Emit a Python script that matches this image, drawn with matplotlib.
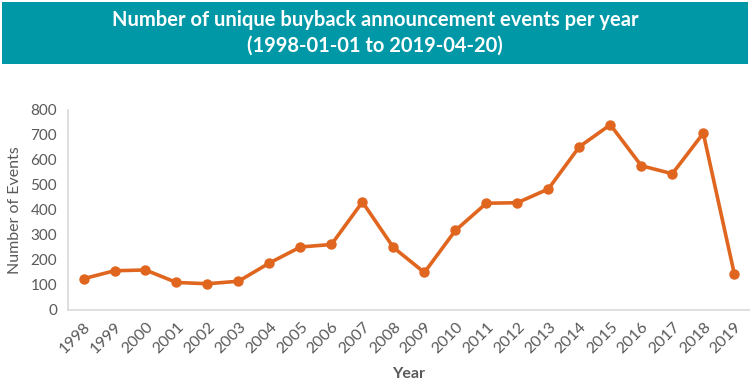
import matplotlib
matplotlib.use("Agg")
import matplotlib.pyplot as plt
import matplotlib.transforms as mtransforms
from matplotlib.patches import Rectangle

years = list(range(1998, 2020))
events = [125, 157, 160, 110, 105, 115, 188, 252, 262, 432, 250, 150,
          318, 427, 429, 484, 653, 741, 577, 545, 707, 145]

title = "Number of unique buyback announcement events per year\n(1998-01-01 to 2019-04-20)"
line_color = "#E0661F"
teal = "#0098A6"
grey = "#595959"

plt.rcParams['font.family'] = ['Lato', 'DejaVu Sans']

fig = plt.figure(figsize=(7.5, 3.91), dpi=100)

# title banner
fig.patches.append(Rectangle((0.002, 0.836), 0.995, 0.16, transform=fig.transFigure,
                             facecolor=teal, edgecolor='none'))
fig.text(0.5, 0.916, title, ha='center', va='center', color='white',
         fontsize=14.5, fontweight='bold', linespacing=1.3)

ax = fig.add_axes([0.0907, 0.2072, 0.909, 0.5115])
ax.plot(years, events, color=line_color, linewidth=2.6, marker='o', markersize=6.5)

ax.set_xlim(1997.5, 2019.5)
ax.set_ylim(0, 800)
ax.set_xticks(years)
ax.set_xticklabels([str(y) for y in years], rotation=45, ha='right',
                   rotation_mode='anchor', color=grey, fontsize=11.5)
# nudge year labels a bit to the right like the original
shift = mtransforms.ScaledTranslation(4 / 100, 0, fig.dpi_scale_trans)
for lbl in ax.get_xticklabels():
    lbl.set_transform(lbl.get_transform() + shift)
ax.set_yticks(range(0, 801, 100))
ax.tick_params(axis='y', colors=grey, labelsize=11, length=0, pad=8)
ax.tick_params(axis='x', length=0, pad=7)

for s in ['top', 'right']:
    ax.spines[s].set_visible(False)
for s in ['left', 'bottom']:
    ax.spines[s].set_color('#D9D9D9')
    ax.spines[s].set_linewidth(1.2)

ax.set_ylabel("Number of Events", color=grey, fontsize=11.5, labelpad=6)
ax.set_xlabel("Year", color=grey, fontsize=11.5, fontweight='bold', labelpad=8)

fig.savefig("out.png", dpi=100)
